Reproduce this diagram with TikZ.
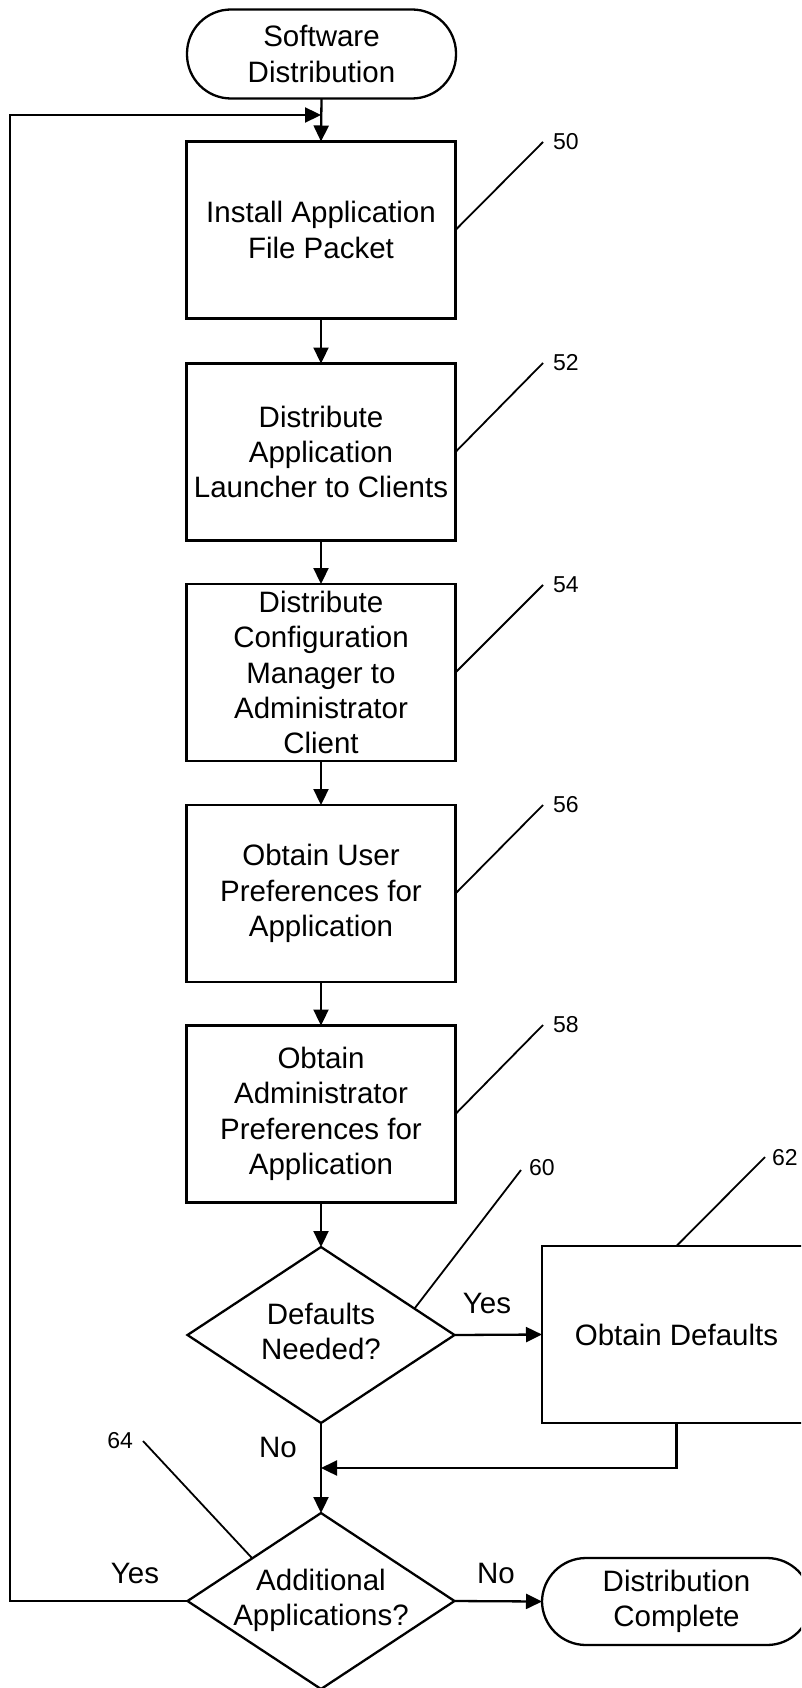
\documentclass[tikz,border=0pt]{standalone}
\usepackage{fontspec}
\setmainfont{Liberation Sans}
\usetikzlibrary{shapes.geometric,arrows.meta,calc}
\begin{document}
\begin{tikzpicture}[x=1pt,y=-1pt,
  every node/.style={inner sep=0pt, outer sep=0pt},
  mainfont/.style={font=\fontsize{29.5}{35.3}\selectfont},
  procbox/.style={draw, line width=2.3pt, minimum width=269pt, minimum height=177pt, align=center, mainfont},
  term/.style={draw, line width=2.3pt, rounded corners=44pt, minimum width=269pt, minimum height=89pt, align=center, mainfont},
  decision/.style={draw, diamond, line width=2.3pt, minimum width=267pt, minimum height=176pt, mainfont},
  reflabel/.style={font=\fontsize{23}{27}\selectfont},
  branch/.style={mainfont},
  flow/.style={line width=2.3pt, -{Triangle[length=16pt,width=15pt]}},
  leader/.style={line width=1.8pt},
]
\useasboundingbox (0,0) rectangle (801,1688);
\clip (0,0) rectangle (801,1688);

% nodes
\node[term] (start) at (321.5,54) {Software\\Distribution};
\node[procbox] (b50) at (321,230) {Install Application\\File Packet};
\node[procbox] (b52) at (321,452) {Distribute\\Application\\Launcher to Clients};
\node[procbox] (b54) at (321,672.5) {Distribute\\Configuration\\Manager to\\Administrator\\Client};
\node[procbox] (b56) at (321,893.5) {Obtain User\\Preferences for\\Application};
\node[procbox] (b58) at (321,1114) {Obtain\\Administrator\\Preferences for\\Application};
\node[decision] (d60) at (321,1335) {\raisebox{-3pt}{\makebox[0pt]{\begin{tabular}{@{}c@{}}Defaults\\Needed?\end{tabular}}}};
\node[procbox] (b62) at (676.5,1334.5) {Obtain Defaults};
\node[decision] (d64) at (321,1601) {\raisebox{-3pt}{\makebox[0pt]{\begin{tabular}{@{}c@{}}Additional\\Applications?\end{tabular}}}};
\node[term, minimum height=87pt] (end) at (676.5,1601.5) {Distribution\\Complete};

% junction coordinates
\coordinate (jn) at (321,115);
\coordinate (loopA) at (10,1601);
\coordinate (loopB) at (10,115);
\coordinate (j2a) at (676.5,1468);
\coordinate (j2) at (321,1468);

% flow connectors
\draw[flow] (start.south) -- (b50.north);
\draw[flow] (d64.west) -- (loopA) -- (loopB) -- (jn);
\draw[flow] (b50.south) -- (b52.north);
\draw[flow] (b52.south) -- (b54.north);
\draw[flow] (b54.south) -- (b56.north);
\draw[flow] (b56.south) -- (b58.north);
\draw[flow] (b58.south) -- (d60.north);
\draw[flow] (d60.east) -- (b62.west);
\draw[flow] (d60.south) -- (d64.north);
\draw[flow] (b62.south) -- (j2a) -- (j2);
\draw[flow] (d64.east) -- (end.west);

% branch labels
\node[branch] (yes60) at (487,1303) {Yes};
\node[branch] (no60) at (278,1447) {No};
\node[branch] (yes64) at (135,1573) {Yes};
\node[branch] (no64) at (496,1573) {No};

% reference numerals and leaders
\coordinate (t50) at (543,142);
\coordinate (t52) at (543,363);
\coordinate (t54) at (543,585);
\coordinate (t56) at (543,805);
\coordinate (t58) at (543,1025);
\coordinate (t60) at (521,1170);
\coordinate (t62) at (765,1157);
\coordinate (t64) at (143,1441);
\draw[leader] (b50.east) -- (t50);
\draw[leader] (b52.east) -- (t52);
\draw[leader] (b54.east) -- (t54);
\draw[leader] (b56.east) -- (t56);
\draw[leader] (b58.east) -- (t58);
\draw[leader] ($(d60.north)!0.7!(d60.east)$) -- (t60);
\draw[leader] (b62.north) -- (t62);
\draw[leader] ($(d64.north)!0.515!(d64.west)$) -- (t64);
\node[reflabel, anchor=west] (l50) at (553,142) {50};
\node[reflabel, anchor=west] (l52) at (553,363) {52};
\node[reflabel, anchor=west] (l54) at (553,585) {54};
\node[reflabel, anchor=west] (l56) at (553,805) {56};
\node[reflabel, anchor=west] (l58) at (553,1025) {58};
\node[reflabel, anchor=west] (l60) at (529,1168) {60};
\node[reflabel, anchor=west] (l62) at (772,1158) {62};
\node[reflabel, anchor=east] (l64) at (133,1441) {64};
\end{tikzpicture}
\end{document}
